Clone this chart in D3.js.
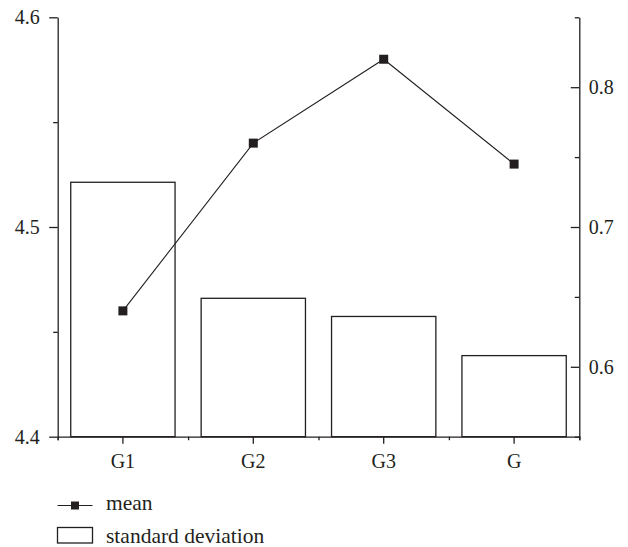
<!DOCTYPE html>
<html>
<head>
<meta charset="utf-8">
<script src="https://cdn.jsdelivr.net/npm/d3@7"></script>
<style>
  html, body { margin: 0; padding: 0; background: #fff; }
  svg { display: block; }
  text { font-family: "Liberation Serif", "DejaVu Serif", serif; fill: #231f20; }
</style>
</head>
<body>
<svg id="chart" width="628" height="547"></svg>
<script>
const categories = ["G1", "G2", "G3", "G"];
const meanValues = [4.46, 4.54, 4.58, 4.53];
const sdValues = [0.732, 0.649, 0.636, 0.608];
const leftTicks = [4.4, 4.5, 4.6];
const leftMinorTicks = [4.45, 4.55];
const rightTicks = [0.6, 0.7, 0.8];
const rightMinorTicks = [0.55, 0.65, 0.75, 0.85];
const legendLabels = ["mean", "standard deviation"];

const ink = "#231f20";
const svg = d3.select("#chart");
const m = { left: 57.7, right: 579.3, top: 17.3, bottom: 436.7 };

const x = d3.scaleBand().domain(categories).range([m.left, m.right])
  .paddingInner(0.2).paddingOuter(0.1);
const xEdge = d3.scaleLinear().domain([0, categories.length]).range([m.left, m.right]);
const yL = d3.scaleLinear().domain([4.4, 4.6]).range([m.bottom, m.top]);
const yR = d3.scaleLinear().domain([0.55, 0.85]).range([m.bottom, m.top]);

// bars (standard deviation, right axis)
svg.append("g").selectAll("rect").data(sdValues).join("rect")
  .attr("x", (d, i) => x(categories[i]))
  .attr("y", d => yR(d))
  .attr("width", x.bandwidth())
  .attr("height", d => m.bottom - yR(d))
  .attr("fill", "#fff")
  .attr("stroke", ink)
  .attr("stroke-width", 1.3);

function styleAxis(g) {
  g.attr("font-size", null).attr("font-family", null);
  g.selectAll(".domain").attr("stroke", ink).attr("stroke-width", 1.3);
  g.selectAll(".tick line").attr("stroke", ink).attr("stroke-width", 1.3);
  g.selectAll(".tick text").attr("fill", ink).style("font-size", "20px")
    .style("font-family", '"Liberation Serif", "DejaVu Serif", serif');
}

// x axis
svg.append("g").attr("transform", `translate(0,${m.bottom})`)
  .call(d3.axisBottom(xEdge).tickValues(d3.range(categories.length + 1)).tickSize(3.5).tickFormat(""))
  .call(styleAxis);
svg.append("g").attr("transform", `translate(0,${m.bottom})`)
  .call(d3.axisBottom(x).tickSize(7).tickPadding(10).tickSizeOuter(0))
  .call(styleAxis)
  .call(g => g.select(".domain").remove());

// left axis
svg.append("g").attr("transform", `translate(${m.left},0)`)
  .call(d3.axisLeft(yL).tickValues(leftMinorTicks).tickSize(4.5).tickFormat("").tickSizeOuter(0))
  .call(styleAxis);
svg.append("g").attr("transform", `translate(${m.left},0)`)
  .call(d3.axisLeft(yL).tickValues(leftTicks).tickSize(8.5).tickPadding(9.5).tickFormat(d3.format(".1f")).tickSizeOuter(0))
  .call(styleAxis)
  .call(g => g.select(".domain").remove());

// right axis (ticks inward)
svg.append("g").attr("transform", `translate(${m.right},0)`)
  .call(d3.axisRight(yR).tickValues(rightMinorTicks).tickSize(-4.5).tickFormat("").tickSizeOuter(0))
  .call(styleAxis);
svg.append("g").attr("transform", `translate(${m.right},0)`)
  .call(d3.axisRight(yR).tickValues(rightTicks).tickSize(-8.5).tickPadding(9.5).tickFormat(d3.format(".1f")).tickSizeOuter(0))
  .call(styleAxis)
  .call(g => g.select(".domain").remove());

// mean line (left axis)
const cx = (d, i) => x(categories[i]) + x.bandwidth() / 2;
svg.append("path").datum(meanValues)
  .attr("fill", "none").attr("stroke", ink).attr("stroke-width", 1.1)
  .attr("d", d3.line().x(cx).y(d => yL(d)));
const ms = 9;
svg.append("g").selectAll("rect").data(meanValues).join("rect")
  .attr("x", (d, i) => cx(d, i) - ms / 2)
  .attr("y", d => yL(d) - ms / 2)
  .attr("width", ms).attr("height", ms)
  .attr("fill", ink);

// legend
const lg = svg.append("g");
const ly1 = 505.5;
lg.append("line").attr("x1", 57.5).attr("x2", 92.5).attr("y1", ly1).attr("y2", ly1)
  .attr("stroke", ink).attr("stroke-width", 1.1);
lg.append("rect").attr("x", 75 - 4).attr("y", ly1 - 4).attr("width", 8).attr("height", 8).attr("fill", ink);
lg.append("text").attr("x", 106).attr("y", 510).style("font-size", "21.5px").text(legendLabels[0]);
lg.append("rect").attr("x", 57.5).attr("y", 527.5).attr("width", 35).attr("height", 15.5)
  .attr("fill", "#fff").attr("stroke", ink).attr("stroke-width", 1.3);
lg.append("text").attr("x", 106).attr("y", 543).style("font-size", "21.5px").text(legendLabels[1]);
</script>
</body>
</html>
